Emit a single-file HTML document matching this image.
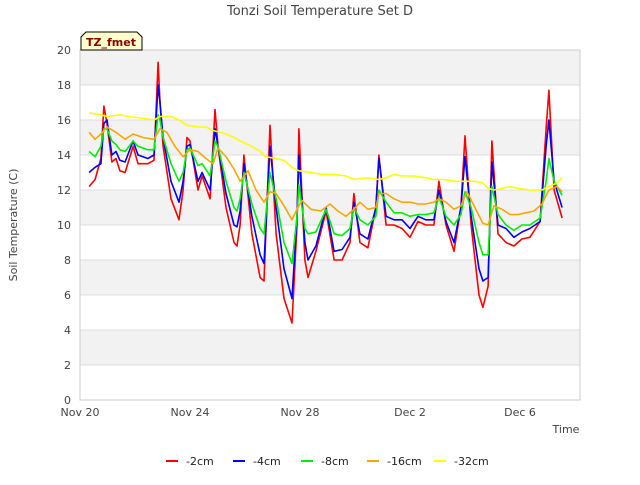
<!DOCTYPE html>
<html><head><meta charset="utf-8"><style>
body{margin:0;background:#fff;font-family:"Liberation Sans",sans-serif}
svg text{font-family:"DejaVu Sans","Liberation Sans",sans-serif}
</style></head><body>
<svg id="chart" width="640" height="480" xmlns="http://www.w3.org/2000/svg">
<text x="320" y="15" text-anchor="middle" font-size="13" fill="#444">Tonzi Soil Temperature Set D</text>
<g id="bands"></g><g id="grid"></g>
<rect x="80" y="50" width="500" height="350" fill="none" stroke="#ccc"/>
<g id="yticks"></g><g id="xticks"></g>
<text transform="translate(17,225) rotate(-90)" text-anchor="middle" font-size="11" fill="#444">Soil Temperature (C)</text>
<text x="566" y="433" text-anchor="middle" font-size="11" fill="#444">Time</text>
<g id="series"></g>
<g>
<path d="M86,32 L137,32 L142,37 L142,50 L81,50 L81,37 Z" fill="#ffffcc" stroke="#000"/>
<text x="111" y="46" text-anchor="middle" font-size="11" font-weight="bold" fill="#8b0000">TZ_fmet</text>
</g>
<g id="legend"></g>
</svg>
<script>
const yTicks=[0,2,4,6,8,10,12,14,16,18,20];
const xTickDays=[0,4,8,12,16];
const xTickLabels=["Nov 20","Nov 24","Nov 28","Dec 2","Dec 6"];
const names=["-2cm","-4cm","-8cm","-16cm","-32cm"];
const colors=["#ff0000","#0000ff","#00ee00","#ffa500","#ffff00"];
const tShared=[0.33,0.55,0.76,0.87,0.98,1.16,1.31,1.45,1.64,1.93,2.11,2.47,2.69,2.84,2.91,3.02,3.31,3.60,3.75,3.89,4.00,4.29,4.44,4.73,4.91,5.02,5.31,5.60,5.71,5.82,5.96,6.25,6.55,6.69,6.91,7.13,7.42,7.71,7.89,7.96,8.18,8.29,8.58,8.95,9.24,9.53,9.82,9.96,10.18,10.47,10.76,10.87,11.13,11.42,11.71,12.00,12.29,12.58,12.87,13.05,13.31,13.60,13.85,14.00,14.22,14.51,14.65,14.84,14.98,15.20,15.49,15.78,16.07,16.36,16.73,16.95,17.05,17.24,17.53];
const v2=[12.2,12.6,13.8,16.8,15.8,13.6,13.8,13.1,13.0,14.5,13.5,13.5,13.7,19.3,17.0,14.5,11.5,10.3,12.0,15.0,14.8,12.0,12.8,11.5,16.6,14.5,11.0,9.0,8.8,10.0,14.0,9.5,7.0,6.8,15.7,9.5,5.8,4.4,10.0,15.5,8.0,7.0,8.5,10.8,8.0,8.0,9.0,11.8,9.0,8.7,11.0,14.0,10.0,10.0,9.8,9.3,10.2,10.0,10.0,12.5,10.0,8.5,11.0,15.1,10.0,6.0,5.3,6.5,14.8,9.5,9.0,8.8,9.2,9.3,10.2,15.5,17.7,12.0,10.4];
const v4=[13.0,13.3,13.5,15.8,16.0,14.0,14.2,13.7,13.6,14.8,14.0,13.8,14.0,18.0,17.0,15.0,12.5,11.3,12.5,14.5,14.6,12.5,13.0,12.0,15.5,14.5,11.8,10.0,9.9,10.8,13.5,10.5,8.3,7.8,14.5,11.0,7.5,5.8,10.5,14.0,9.0,8.0,8.8,11.0,8.5,8.6,9.3,11.3,9.5,9.2,11.0,13.8,10.5,10.3,10.3,9.8,10.5,10.3,10.3,12.0,10.2,9.0,11.0,13.9,10.5,7.5,6.8,7.0,13.6,10.0,9.8,9.3,9.6,9.8,10.2,14.5,16.0,12.5,11.0];
const v8=[14.2,13.9,14.5,15.5,15.5,14.8,14.6,14.3,14.2,14.8,14.5,14.3,14.3,16.3,16.0,15.0,13.5,12.5,13.0,14.3,14.4,13.4,13.5,12.8,14.8,14.5,12.5,11.0,10.8,11.5,13.0,11.2,9.8,9.5,13.0,11.5,9.0,7.8,10.5,12.3,9.8,9.5,9.6,10.9,9.5,9.4,9.8,11.0,10.3,10.0,10.5,12.0,11.3,10.7,10.7,10.5,10.6,10.6,10.7,11.6,10.5,10.0,10.6,11.9,11.0,9.0,8.3,8.3,12.2,10.6,10.0,9.7,10.0,10.0,10.4,12.5,13.8,12.5,11.7];
const t16=[0.33,0.55,0.76,0.98,1.31,1.64,1.93,2.29,2.69,2.91,3.16,3.45,3.75,4.00,4.29,4.58,4.84,5.02,5.31,5.60,5.82,6.11,6.40,6.69,6.91,7.13,7.42,7.71,7.89,8.07,8.40,8.76,9.09,9.38,9.67,9.96,10.18,10.47,10.76,10.87,11.13,11.42,11.71,12.00,12.29,12.58,12.87,13.05,13.31,13.60,13.85,14.07,14.36,14.65,14.84,15.05,15.35,15.64,15.93,16.22,16.51,16.80,17.05,17.35,17.53];
const v16=[15.3,14.9,15.2,15.6,15.3,14.9,15.2,15.0,14.9,15.5,15.3,14.5,13.9,14.3,14.2,13.8,13.5,14.4,13.9,13.2,12.5,13.1,12.0,11.3,11.9,11.8,11.1,10.3,10.9,11.4,10.9,10.8,11.2,10.8,10.5,10.9,11.3,10.9,11.0,11.8,11.8,11.5,11.3,11.3,11.2,11.2,11.3,11.5,11.3,10.9,11.1,11.9,11.0,10.1,10.0,11.1,10.9,10.6,10.6,10.7,10.8,11.2,12.0,12.2,11.9];
const t32=[0.33,0.76,0.98,1.45,1.78,2.29,2.69,2.91,3.31,3.60,3.89,4.29,4.58,4.84,5.31,5.60,5.82,6.25,6.55,6.76,7.13,7.42,7.71,7.96,8.40,8.76,9.24,9.67,9.96,10.47,10.87,11.13,11.42,11.71,12.15,12.58,12.87,13.24,13.60,13.85,14.07,14.36,14.65,14.84,15.05,15.35,15.64,15.93,16.36,16.80,17.05,17.35,17.53];
const v32=[16.4,16.3,16.2,16.3,16.2,16.1,16.0,16.2,16.2,16.0,15.7,15.6,15.6,15.4,15.2,15.0,14.8,14.5,14.2,13.9,13.8,13.7,13.3,13.1,13.0,12.9,12.9,12.8,12.6,12.7,12.6,12.7,12.9,12.8,12.8,12.7,12.6,12.6,12.5,12.5,12.5,12.5,12.4,12.1,12.0,12.1,12.2,12.1,12.0,12.0,12.2,12.4,12.7];
const NS="http://www.w3.org/2000/svg";
const X0=80,X1=580,Y0=400,Y1=50,DMAX=500/27.5;
const xs=d=>X0+d/DMAX*(X1-X0);
const ys=v=>Y0-v/20*(Y0-Y1);
function mk(tag,attrs,parent){const e=document.createElementNS(NS,tag);for(const k in attrs)e.setAttribute(k,attrs[k]);parent.appendChild(e);return e;}
const bands=document.getElementById('bands'),grid=document.getElementById('grid'),yt=document.getElementById('yticks'),xt=document.getElementById('xticks');
for(let i=0;i<yTicks.length-1;i++){
 if(i%2===1){const r=mk('rect',{x:X0,y:ys(yTicks[i+1]),width:X1-X0,height:ys(yTicks[i])-ys(yTicks[i+1]),fill:'#f2f2f2'},bands);
 
 }
}
yTicks.forEach(v=>{
 const l=mk('line',{x1:X0,x2:X1,y1:ys(v),y2:ys(v),stroke:'#ddd'},grid);
 
 
 const t=mk('text',{x:71,y:ys(v)+4,'text-anchor':'end','font-size':'11',fill:'#444'},yt);t.textContent=v;
 
 
});
xTickDays.forEach((d,i)=>{
 const t=mk('text',{x:xs(d),y:416,'text-anchor':'middle','font-size':'11',fill:'#444'},xt);t.textContent=xTickLabels[i];
 
 
});
const sg=document.getElementById('series');
const sets=[[tShared,v2],[tShared,v4],[tShared,v8],[t16,v16],[t32,v32]];
sets.forEach((s,i)=>{
 const p=mk('polyline',{points:s[0].map((d,j)=>xs(d).toFixed(1)+','+ys(s[1][j]).toFixed(1)).join(' '),fill:'none',stroke:colors[i],'stroke-width':'1.6','stroke-linejoin':'round'},sg);
 
 
});
const lg=document.getElementById('legend');
const lx=[166,233,301,367,434];
names.forEach((n,i)=>{
 const g=mk('g',{},lg);
 
 
 mk('line',{x1:lx[i],x2:lx[i]+12,y1:461,y2:461,stroke:colors[i],'stroke-width':'2'},g);
 const t=mk('text',{x:lx[i]+20,y:465,'font-size':'11',fill:'#222'},g);t.textContent=n;
});
</script>
</body></html>
